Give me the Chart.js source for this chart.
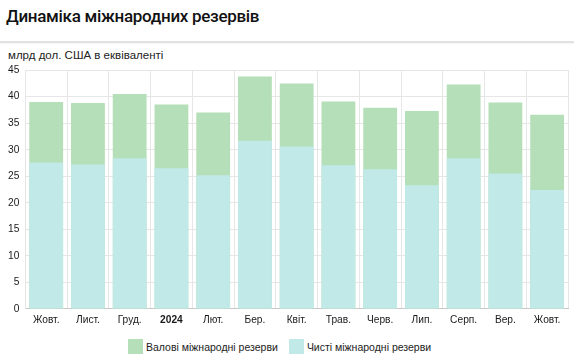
<!DOCTYPE html>
<html>
<head>
<meta charset="utf-8">
<script src="https://cdn.jsdelivr.net/npm/chart.js@4"></script>
<style>
  html, body { margin:0; padding:0; background:#fff; }
  body { width:574px; height:363px; position:relative; overflow:hidden; font-family:"Liberation Sans", Arial, sans-serif; }
  #title { position:absolute; left:6px; top:6px; font-family:Roboto, sans-serif; font-weight:500; font-size:17px; letter-spacing:-0.3px; color:#111; white-space:nowrap; }
  #rule { position:absolute; left:0; top:41px; width:574px; height:2px; background:#e2e2e2; box-shadow:0 1px 2px rgba(0,0,0,0.06); }
  #sub { position:absolute; left:8px; top:49px; font-size:11.5px; color:#222; white-space:nowrap; }
  #c { position:absolute; left:0; top:58px; display:block; }
  #legend { position:absolute; left:128px; top:339px; height:15px; display:flex; align-items:center; font-size:10.5px; color:#222; white-space:nowrap; }
  #legend .item { display:flex; align-items:center; }
  #legend .box { width:15px; height:15px; margin-right:3px; }
  #legend .item + .item { margin-left:11px; }
</style>
</head>
<body>
<div id="title">Динаміка міжнародних резервів</div>
<div id="rule"></div>
<div id="sub">млрд дол. США в еквіваленті</div>
<canvas id="c" width="574" height="276"></canvas>
<div id="legend"></div>
<script>
const categories = ["Жовт.", "Лист.", "Груд.", "2024", "Лют.", "Бер.", "Квіт.", "Трав.", "Черв.", "Лип.", "Серп.", "Вер.", "Жовт."];
const grossReserves = [39.0, 38.8, 40.5, 38.5, 37.0, 43.8, 42.5, 39.1, 37.9, 37.3, 42.3, 38.9, 36.6];
const netReserves = [27.6, 27.2, 28.4, 26.5, 25.2, 31.7, 30.6, 27.1, 26.3, 23.3, 28.4, 25.5, 22.4];
const yTicks = [0, 5, 10, 15, 20, 25, 30, 35, 40, 45];

const GREEN = "#b5dfb8";
const TEAL = "#c1e9e8";
const FONT = "'Liberation Sans', Arial, sans-serif";

const chart = new Chart(document.getElementById("c"), {
  type: "bar",
  data: {
    labels: categories,
    datasets: [
      { label: "Валові міжнародні резерви", data: grossReserves, backgroundColor: GREEN, order: 1,
        barPercentage: 0.9, categoryPercentage: 0.9 },
      { label: "Чисті міжнародні резерви", data: netReserves, backgroundColor: TEAL, order: 0,
        barPercentage: 0.9, categoryPercentage: 0.9 }
    ]
  },
  options: {
    responsive: false,
    animation: false,
    layout: { padding: { left: 2, right: 6, top: 10.3, bottom: 2.8 } },
    plugins: {
      legend: { display: false },
      tooltip: { enabled: false }
    },
    scales: {
      x: {
        stacked: true,
        grid: { color: "#e6e6e6", drawTicks: false, offset: true },
        border: { color: "#c8c8c8" },
        ticks: {
          color: "#1a1a1a", padding: 5, maxRotation: 0, autoSkip: false,
          font: (ctx) => ({ family: FONT, size: 10.2, weight: ctx.index === 3 ? "bold" : "normal" })
        }
      },
      y: {
        stacked: false,
        min: 0, max: 45,
        afterBuildTicks: (axis) => { axis.ticks = yTicks.map(v => ({ value: v })); },
        grid: { color: "#e6e6e6", drawTicks: false },
        border: { color: "#e6e6e6" },
        ticks: {
          color: "#1a1a1a", padding: 6,
          font: { family: FONT, size: 10.2 }
        }
      }
    }
  }
});

// HTML legend built from the chart's datasets
const legendEl = document.getElementById("legend");
chart.data.datasets.forEach(ds => {
  const item = document.createElement("div");
  item.className = "item";
  const box = document.createElement("span");
  box.className = "box";
  box.style.background = ds.backgroundColor;
  const txt = document.createElement("span");
  txt.textContent = ds.label;
  item.appendChild(box);
  item.appendChild(txt);
  legendEl.appendChild(item);
});
</script>
</body>
</html>
